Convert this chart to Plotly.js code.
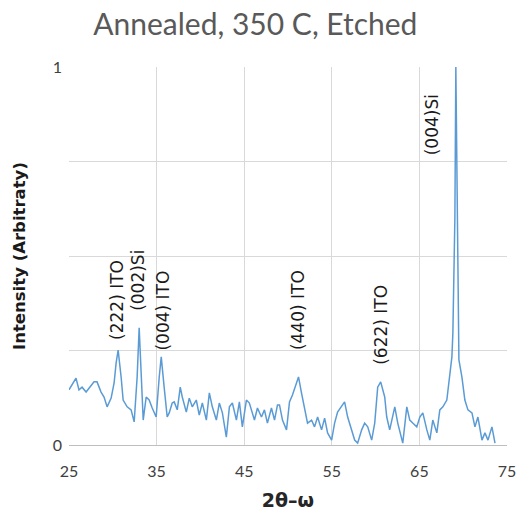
<!DOCTYPE html>
<html>
<head>
<meta charset="utf-8">
<script src="https://cdn.plot.ly/plotly-3.0.1.min.js"></script>
<style>html,body{margin:0;padding:0;background:#fff}#chart{width:519px;height:519px}</style>
</head>
<body>
<div id="chart"></div>
<script>
// 2theta-omega positions (degrees)
const twoTheta = [25.00,25.80,26.14,26.49,26.95,27.29,27.86,28.20,28.66,29.00,29.35,29.81,30.15,30.38,30.61,30.95,31.18,31.64,32.09,32.44,32.78,33.01,33.24,33.47,33.81,34.15,34.50,34.95,35.30,35.53,35.87,36.21,36.44,36.78,37.01,37.36,37.70,37.93,38.39,38.73,39.07,39.53,39.87,40.22,40.68,41.02,41.36,41.82,42.16,42.51,42.96,43.31,43.65,44.11,44.45,44.79,45.25,45.59,46.17,46.51,46.97,47.31,47.65,48.11,48.46,48.80,49.03,49.37,49.83,50.17,50.51,50.97,51.20,51.54,51.89,52.23,52.69,53.03,53.38,53.83,54.18,54.52,54.98,55.32,55.66,56.12,56.46,56.81,57.27,57.61,57.95,58.41,58.75,59.10,59.55,59.90,60.24,60.58,61.04,61.27,61.61,62.19,62.53,63.10,63.56,63.90,64.24,64.70,65.05,65.39,65.85,66.19,66.53,66.99,67.33,67.68,68.13,68.25,68.48,68.71,68.82,69.05,69.16,69.34,69.45,69.51,69.85,70.19,70.54,71.00,71.34,71.68,72.14,72.48,72.83,73.28,73.63];
// normalized intensity
const intensity = [0.146,0.177,0.146,0.153,0.140,0.151,0.167,0.167,0.140,0.127,0.101,0.124,0.164,0.217,0.251,0.180,0.119,0.101,0.093,0.061,0.180,0.310,0.180,0.066,0.127,0.119,0.098,0.074,0.180,0.233,0.151,0.074,0.085,0.111,0.114,0.093,0.153,0.127,0.087,0.124,0.101,0.119,0.079,0.111,0.066,0.138,0.101,0.066,0.111,0.085,0.021,0.101,0.111,0.066,0.114,0.048,0.119,0.111,0.066,0.098,0.074,0.093,0.058,0.098,0.066,0.106,0.106,0.066,0.040,0.114,0.132,0.164,0.180,0.138,0.101,0.058,0.066,0.048,0.074,0.040,0.071,0.032,0.013,0.058,0.087,0.101,0.114,0.074,0.040,0.013,0.005,0.040,0.058,0.048,0.013,0.058,0.153,0.167,0.127,0.074,0.040,0.101,0.058,0.005,0.101,0.066,0.058,0.048,0.074,0.085,0.040,0.013,0.066,0.032,0.093,0.101,0.119,0.146,0.180,0.233,0.296,0.600,1.000,0.550,0.300,0.225,0.180,0.119,0.093,0.085,0.048,0.074,0.013,0.032,0.013,0.048,0.005];

const xTicks = [25,35,45,55,65,75];
const yTicks = [0,0.25,0.5,0.75,1];
const yTickText = ['0','','','','1'];

const peakLabels = ['(222) ITO','(002)Si','(004) ITO','(440) ITO','(622) ITO','(004)Si'];
const peakLabelX = [30.45,32.95,35.75,51.15,60.58,66.53];
const peakLabelY = [0.272,0.350,0.245,0.246,0.206,0.762];

const font = 'Lato, "Liberation Sans", sans-serif';
const wide = '"DejaVu Sans", sans-serif';

const trace = {
  x: twoTheta, y: intensity, type: 'scatter', mode: 'lines',
  line: {color: '#5B9BD5', width: 1.5},
  hoverinfo: 'skip'
};

const annotations = peakLabels.map((t, i) => ({
  x: peakLabelX[i], y: peakLabelY[i], xref: 'x', yref: 'y',
  text: t, showarrow: false, textangle: -90,
  xanchor: 'center', yanchor: 'bottom',
  font: {family: wide, size: 17, color: '#1a1a1a'}
}));

const layout = {
  width: 519, height: 519,
  margin: {l: 69, r: 12, t: 67, b: 74},
  paper_bgcolor: '#ffffff', plot_bgcolor: '#ffffff',
  showlegend: false,
  title: {text: 'Annealed, 350 C, Etched', x: 0.492, xanchor: 'center', xref: 'container', y: 0.952, yanchor: 'middle', yref: 'container',
          font: {family: font, size: 30, color: '#595959'}},
  xaxis: {
    range: [25, 75], tickvals: xTicks, ticks: '', showgrid: true, gridcolor: '#d9d9d9', gridwidth: 1,
    zeroline: false, showline: true, linecolor: '#bfbfbf', linewidth: 1,
    ticklabelstandoff: 12,
    tickfont: {family: font, size: 16, color: '#404040'},
    title: {text: '<b>2θ–ω</b>', font: {family: wide, size: 19, color: '#262626'}, standoff: 14}
  },
  yaxis: {
    range: [0, 1], tickvals: yTicks, ticktext: yTickText, ticks: '', showgrid: true, gridcolor: '#d9d9d9', gridwidth: 1,
    zeroline: false, showline: false,
    ticklabelstandoff: 6,
    tickfont: {family: font, size: 16, color: '#404040'},
    title: {text: '<b>Intensity (Arbitraty)</b>', font: {family: wide, size: 16.5, color: '#1a1a1a'}, standoff: 22}
  },
  annotations: annotations
};

Plotly.newPlot('chart', [trace], layout, {displayModeBar: false, staticPlot: true});
</script>
</body>
</html>
